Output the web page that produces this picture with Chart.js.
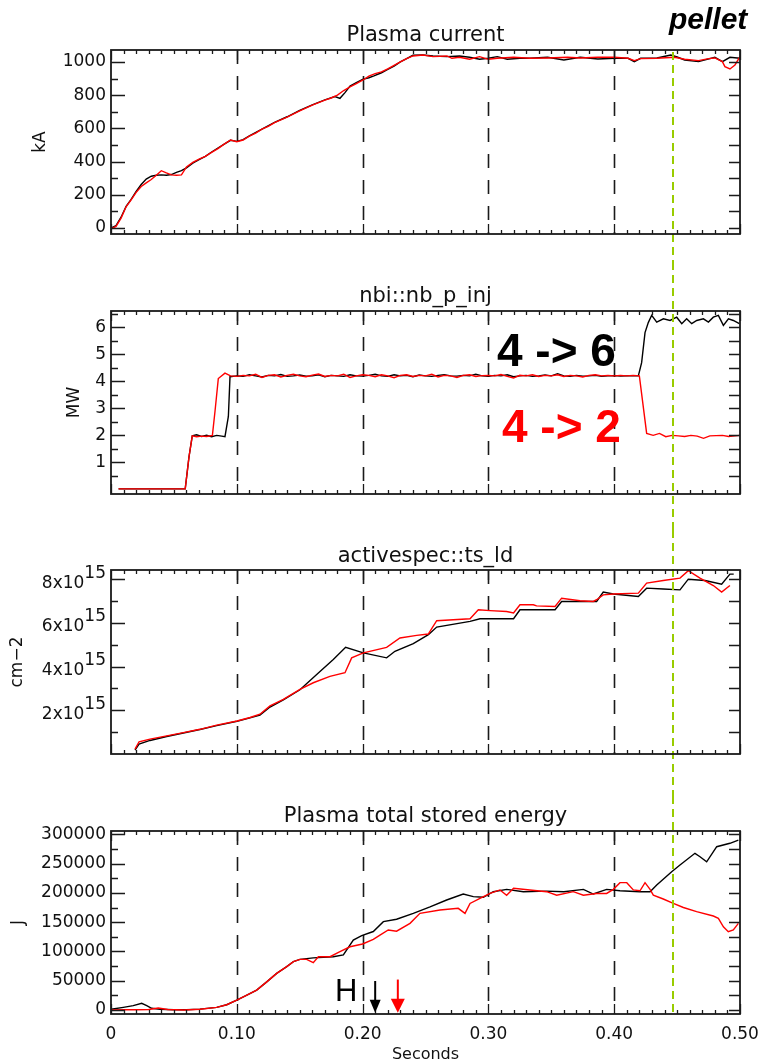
<!DOCTYPE html>
<html>
<head>
<meta charset="utf-8">
<script src="https://cdn.jsdelivr.net/npm/chart.js@4.4.1/dist/chart.umd.min.js"></script>
<style>
  html, body { margin: 0; padding: 0; background: #fff; }
  #wrap { position: relative; width: 759px; height: 1064px; }
  #wrap canvas { position: absolute; left: 0; }
</style>
</head>
<body>
<div id="wrap">
  <canvas id="c1" width="759" height="262" style="top:0px"></canvas>
  <canvas id="c2" width="759" height="268" style="top:262px"></canvas>
  <canvas id="c3" width="759" height="266" style="top:530px"></canvas>
  <canvas id="c4" width="759" height="268" style="top:796px"></canvas>
</div>
<script>
// Tempos marcados (linhas tracejadas) e tempo do pellet
const markTimes = [0.1, 0.2, 0.3, 0.4];
const pelletTime = 0.4465;
const xMajor = [0, 0.1, 0.2, 0.3, 0.4, 0.5];

// Plasma current (kA)
const tIpRed = [0, 0.004, 0.008, 0.012, 0.016, 0.020, 0.024, 0.028, 0.032, 0.036,
  0.040, 0.044, 0.048, 0.052, 0.056, 0.060, 0.065, 0.070, 0.075, 0.080,
  0.085, 0.090, 0.095, 0.100, 0.105, 0.110, 0.115, 0.120, 0.125, 0.130,
  0.140, 0.150, 0.160, 0.170, 0.175, 0.180, 0.185, 0.190, 0.195, 0.200,
  0.205, 0.210, 0.215, 0.220, 0.225, 0.230, 0.235, 0.240, 0.248, 0.256,
  0.267, 0.271, 0.277, 0.285, 0.293, 0.300, 0.307, 0.320, 0.333, 0.347,
  0.363, 0.373, 0.387, 0.400, 0.411, 0.416, 0.421, 0.434, 0.448, 0.456,
  0.467, 0.475, 0.480, 0.486, 0.488, 0.492, 0.496, 0.500];
const ipRed = [-5, 10, 60, 128, 169, 215, 250, 272, 292, 318,
  345, 332, 320, 318, 320, 368, 395, 415, 432, 455,
  478, 505, 530, 520, 530, 553, 572, 595, 612, 635,
  668, 705, 740, 770, 783, 800, 828, 850, 870, 890,
  915, 930, 940, 958, 980, 1000, 1020, 1036, 1042, 1032,
  1036, 1022, 1028, 1016, 1032, 1016, 1022, 1028, 1022, 1024,
  1028, 1024, 1028, 1028, 1022, 1008, 1020, 1022, 1028, 1016,
  1008, 1020, 1024, 1002, 972, 958, 982, 1032];
const tIpBlk = [0, 0.004, 0.008, 0.012, 0.016, 0.020, 0.024, 0.028, 0.032, 0.036,
  0.040, 0.044, 0.048, 0.052, 0.056, 0.060, 0.065, 0.070, 0.075, 0.080,
  0.085, 0.090, 0.095, 0.100, 0.105, 0.110, 0.120, 0.130, 0.140, 0.150,
  0.160, 0.170, 0.178, 0.182, 0.186, 0.190, 0.195, 0.200, 0.205, 0.209,
  0.215, 0.220, 0.225, 0.230, 0.235, 0.240, 0.248, 0.256, 0.267, 0.277,
  0.285, 0.293, 0.300, 0.307, 0.315, 0.325, 0.333, 0.347, 0.360, 0.373,
  0.387, 0.400, 0.411, 0.416, 0.421, 0.434, 0.445, 0.450, 0.456, 0.467,
  0.480, 0.486, 0.492, 0.500];
const ipBlk = [0, 15, 65, 130, 172, 220, 262, 295, 312, 318,
  320, 318, 322, 335, 345, 362, 390, 412, 432, 458,
  482, 505, 528, 522, 532, 555, 596, 636, 670, 708,
  742, 772, 792, 781, 815, 855, 875, 895, 905, 916,
  935, 955, 975, 1000, 1020, 1040, 1042, 1036, 1032, 1036,
  1028, 1016, 1022, 1032, 1016, 1022, 1022, 1028, 1012, 1028,
  1018, 1022, 1022, 1002, 1022, 1024, 1042, 1030, 1012, 1002,
  1028, 1002, 1028, 1022];

// nbi::nb_p_inj (MW)
const tNbiRed = [0.006, 0.059, 0.062, 0.0646, 0.068, 0.072, 0.076, 0.0806, 0.0827, 0.0853,
  0.0906, 0.095, 0.100, 0.105, 0.110, 0.115, 0.120, 0.125, 0.130, 0.135,
  0.140, 0.145, 0.150, 0.155, 0.160, 0.165, 0.170, 0.175, 0.180, 0.185,
  0.190, 0.195, 0.200, 0.205, 0.210, 0.215, 0.220, 0.225, 0.230, 0.235,
  0.240, 0.245, 0.250, 0.255, 0.260, 0.265, 0.270, 0.275, 0.280, 0.285,
  0.290, 0.295, 0.300, 0.305, 0.310, 0.315, 0.320, 0.325, 0.330, 0.335,
  0.340, 0.345, 0.350, 0.355, 0.360, 0.365, 0.370, 0.375, 0.380, 0.385,
  0.390, 0.395, 0.400, 0.405, 0.410, 0.415, 0.420, 0.4258, 0.431, 0.436,
  0.441, 0.446, 0.451, 0.456, 0.461, 0.466, 0.471, 0.476, 0.481, 0.486,
  0.491, 0.496, 0.500];
const nbiRed = [0.02, 0.02, 1.2, 1.98, 1.95, 1.97, 1.96, 2.0, 2.9, 4.1,
  4.3, 4.2, 4.18, 4.22, 4.2, 4.26, 4.14, 4.22, 4.24, 4.16,
  4.22, 4.26, 4.2, 4.17, 4.23, 4.27, 4.18, 4.22, 4.2, 4.26,
  4.14, 4.2, 4.24, 4.22, 4.17, 4.24, 4.2, 4.13, 4.22, 4.24,
  4.18, 4.22, 4.2, 4.26, 4.16, 4.22, 4.2, 4.14, 4.22, 4.24,
  4.18, 4.21, 4.22, 4.2, 4.25, 4.18, 4.12, 4.22, 4.2, 4.24,
  4.18, 4.22, 4.2, 4.24, 4.18, 4.22, 4.2, 4.16, 4.22, 4.24,
  4.2, 4.22, 4.2, 4.22, 4.2, 4.22, 4.2, 2.07, 2.0, 2.07,
  1.95, 2.0, 1.98, 1.96, 2.0, 1.97, 1.89, 1.98, 1.99, 2.0,
  1.96, 1.98, 2.0];
const tNbiBlk = [0.006, 0.059, 0.062, 0.0646, 0.068, 0.072, 0.076, 0.080, 0.084, 0.088,
  0.0906, 0.0933, 0.0946, 0.100, 0.105, 0.110, 0.115, 0.120, 0.125, 0.130,
  0.135, 0.140, 0.145, 0.150, 0.155, 0.160, 0.165, 0.170, 0.175, 0.180,
  0.185, 0.190, 0.195, 0.200, 0.205, 0.210, 0.215, 0.220, 0.225, 0.230,
  0.235, 0.240, 0.245, 0.250, 0.255, 0.260, 0.265, 0.270, 0.275, 0.280,
  0.285, 0.290, 0.295, 0.300, 0.305, 0.310, 0.315, 0.320, 0.325, 0.330,
  0.335, 0.340, 0.345, 0.350, 0.355, 0.360, 0.365, 0.370, 0.375, 0.380,
  0.385, 0.390, 0.395, 0.400, 0.405, 0.410, 0.415, 0.4192, 0.4218, 0.4245,
  0.4271, 0.4298, 0.4338, 0.4391, 0.4444, 0.4497, 0.4537, 0.4576, 0.4616, 0.4656,
  0.4709, 0.4749, 0.4788, 0.4828, 0.4868, 0.4908, 0.4947, 0.4995];
const nbiBlk = [0.02, 0.02, 1.2, 1.98, 2.02, 1.96, 2.0, 1.95, 2.0, 1.97,
  1.95, 2.7, 4.17, 4.2, 4.18, 4.24, 4.2, 4.16, 4.22, 4.2,
  4.25, 4.18, 4.2, 4.23, 4.19, 4.2, 4.24, 4.17, 4.22, 4.2,
  4.18, 4.24, 4.2, 4.19, 4.22, 4.26, 4.2, 4.18, 4.24, 4.2,
  4.22, 4.17, 4.23, 4.2, 4.18, 4.22, 4.24, 4.2, 4.19, 4.22,
  4.2, 4.26, 4.2, 4.18, 4.22, 4.2, 4.24, 4.17, 4.2, 4.22,
  4.18, 4.2, 4.23, 4.2, 4.28, 4.2, 4.18, 4.22, 4.19, 4.2,
  4.22, 4.18, 4.2, 4.21, 4.19, 4.2, 4.2, 4.2, 4.69, 5.8,
  6.17, 6.44, 6.19, 6.31, 6.25, 6.37, 6.13, 6.31, 6.13, 6.25,
  6.31, 6.19, 6.37, 6.44, 6.07, 6.31, 6.25, 6.13];

// activespec::ts_ld (unidade: 1e15 cm-2)
const tTsRed = [0.0191, 0.0223, 0.031, 0.0443, 0.0575, 0.0707, 0.084, 0.1002, 0.1105, 0.1184,
  0.1264, 0.137, 0.1502, 0.1608, 0.174, 0.186, 0.1913, 0.2006, 0.2191, 0.2297,
  0.243, 0.2522, 0.2589, 0.2854, 0.292, 0.3013, 0.3145, 0.32, 0.3251, 0.3357,
  0.3383, 0.353, 0.3582, 0.3728, 0.3834, 0.386, 0.3913, 0.3993, 0.4192, 0.4258,
  0.439, 0.4523, 0.4589, 0.4682, 0.4788, 0.4854, 0.492];
const tsRed = [0.22, 0.56, 0.68, 0.83, 0.98, 1.13, 1.32, 1.51, 1.67, 1.82,
  2.2, 2.5, 2.96, 3.26, 3.55, 3.72, 4.4, 4.63, 4.88, 5.31,
  5.43, 5.49, 6.1, 6.19, 6.6, 6.56, 6.52, 6.45, 6.83, 6.83,
  6.78, 6.75, 7.13, 7.01, 6.98, 7.06, 7.28, 7.32, 7.36, 7.82,
  7.94, 8.05, 8.39, 8.05, 7.71, 7.41, 7.71];
const tTsBlk = [0.0191, 0.0223, 0.031, 0.0443, 0.0575, 0.0707, 0.084, 0.1002, 0.1105, 0.1184,
  0.1264, 0.137, 0.1502, 0.1635, 0.1767, 0.1865, 0.2006, 0.2191, 0.2257, 0.2403,
  0.2523, 0.2589, 0.2854, 0.2933, 0.32, 0.3251, 0.353, 0.3582, 0.386, 0.3913,
  0.3993, 0.4192, 0.4258, 0.439, 0.4523, 0.4589, 0.4722, 0.4854, 0.492, 0.495];
const tsBlk = [0.18, 0.45, 0.62, 0.8, 0.96, 1.12, 1.3, 1.5, 1.65, 1.78,
  2.15, 2.48, 2.94, 3.64, 4.32, 4.88, 4.63, 4.4, 4.7, 5.05,
  5.46, 5.81, 6.07, 6.19, 6.19, 6.6, 6.6, 6.98, 6.98, 7.41,
  7.32, 7.21, 7.59, 7.55, 7.51, 8.0, 7.94, 7.77, 8.23, 8.23];

// Plasma total stored energy (J)
const tWRed = [0, 0.010, 0.020, 0.030, 0.0376, 0.045, 0.058, 0.0707, 0.084, 0.092,
  0.100, 0.108, 0.1158, 0.1238, 0.1317, 0.1397, 0.145, 0.1502, 0.1555, 0.1608,
  0.1648, 0.1741, 0.182, 0.190, 0.200, 0.2085, 0.2138, 0.2204, 0.227, 0.2377,
  0.2456, 0.2615, 0.276, 0.2814, 0.2854, 0.2933, 0.3013, 0.3092, 0.3145, 0.320,
  0.333, 0.3463, 0.3543, 0.3675, 0.3755, 0.386, 0.394, 0.3993, 0.4046, 0.410,
  0.4152, 0.4205, 0.4245, 0.4285, 0.4311, 0.439, 0.447, 0.455, 0.4655, 0.4788,
  0.4828, 0.4868, 0.4907, 0.4947, 0.4987];
const wRed = [0, 500, 500, 1000, 3400, 1000, 0, 1200, 4600, 9000,
  17000, 25600, 34000, 48000, 62600, 74000, 82500, 86500, 86500, 80800,
  91000, 91000, 99500, 108000, 112700, 120700, 128000, 136600, 134500, 148000,
  165000, 170700, 173600, 165000, 182000, 190700, 199000, 205000, 196000, 207700,
  205000, 202000, 196000, 202000, 196000, 199000, 199000, 206000, 217400, 217400,
  205000, 203600, 217400, 206000, 196000, 189500, 182000, 175000, 168000, 160500,
  156600, 142000, 133700, 136600, 148000];
const tWBlk = [0, 0.0098, 0.0177, 0.0244, 0.0284, 0.0323, 0.039, 0.050, 0.060, 0.0707,
  0.084, 0.092, 0.100, 0.108, 0.1158, 0.1238, 0.1317, 0.1397, 0.145, 0.1502,
  0.1608, 0.1767, 0.1847, 0.1926, 0.1993, 0.2085, 0.2165, 0.227, 0.2403, 0.2536,
  0.2668, 0.280, 0.288, 0.296, 0.3039, 0.3145, 0.3278, 0.3463, 0.360, 0.3755,
  0.3834, 0.394, 0.4046, 0.4205, 0.4285, 0.4338, 0.4457, 0.4523, 0.4642, 0.4682,
  0.4735, 0.4815, 0.492, 0.4987];
const wBlk = [1200, 4600, 7400, 11400, 7400, 2900, 1200, 500, 500, 1500,
  4600, 9000, 17000, 25600, 34000, 48000, 62600, 74000, 82500, 86500,
  89000, 91000, 94000, 119500, 127000, 134000, 150800, 155000, 165000, 176000,
  187800, 198000, 193500, 192400, 202000, 206000, 202000, 203000, 202000, 206000,
  198000, 206000, 203600, 202000, 202000, 213400, 236000, 247600, 267500, 261700,
  253000, 278800, 284600, 290000];

// Ticks dos eixos y
const yTicksIp = [0, 200, 400, 600, 800, 1000];
const yMinorIp = [100, 300, 500, 700, 900];
const yTicksNbi = [1, 2, 3, 4, 5, 6];
const yMinorNbi = [0.5, 1.5, 2.5, 3.5, 4.5, 5.5, 6.5];
const yTicksTs = [2, 4, 6, 8];
const yMinorTs = [1, 3, 5, 7];
const yTicksW = [0, 50000, 100000, 150000, 200000, 250000, 300000];
const yMinorW = [25000, 75000, 125000, 175000, 225000, 275000];

// Anotações
const arrowTimes = [0.21, 0.228];

const FONT = '"DejaVu Sans", sans-serif';
const xMinor = [];
for (let i = 1; i < 50; i++) if (i % 10) xMinor.push(i / 100);

function pontos(ts, vs) {
  return ts.map((t, i) => ({ x: t, y: vs[i] }));
}

function desenhaSeta(ctx, x, yTop, yTip, cor, largura, altura) {
  ctx.strokeStyle = cor;
  ctx.fillStyle = cor;
  ctx.lineWidth = 2;
  ctx.beginPath();
  ctx.moveTo(x, yTop);
  ctx.lineTo(x, yTip - altura + 1);
  ctx.stroke();
  ctx.beginPath();
  ctx.moveTo(x - largura / 2, yTip - altura);
  ctx.lineTo(x + largura / 2, yTip - altura);
  ctx.lineTo(x, yTip);
  ctx.closePath();
  ctx.fill();
}

function criarPainel(id, cfg) {
  const plugin = {
    id: 'idl_' + id,
    beforeDatasetsDraw(chart) {
      const { ctx, chartArea: a, scales: { x } } = chart;
      ctx.save();
      ctx.strokeStyle = '#1a1a1a';
      ctx.lineWidth = 1.6;
      ctx.setLineDash([14, 12]);
      markTimes.forEach(t => {
        const px = Math.round(x.getPixelForValue(t)) + 0.5;
        ctx.beginPath();
        ctx.moveTo(px, a.top);
        ctx.lineTo(px, a.bottom);
        ctx.stroke();
      });
      ctx.restore();
    },
    afterDatasetsDraw(chart) {
      const { ctx, chartArea: a, scales: { x, y } } = chart;
      ctx.save();

      // linha do pellet
      ctx.strokeStyle = '#99cc00';
      ctx.lineWidth = 2;
      ctx.setLineDash([8, 5]);
      const gx = Math.round(x.getPixelForValue(pelletTime));
      ctx.beginPath();
      ctx.moveTo(gx, cfg.greenFromBox ? a.top + 2 : 0);
      ctx.lineTo(gx, cfg.greenToBox ? a.bottom : chart.height);
      ctx.stroke();
      ctx.setLineDash([]);

      // moldura
      ctx.strokeStyle = '#1a1a1a';
      ctx.lineWidth = 1.8;
      ctx.strokeRect(a.left, a.top, a.right - a.left, a.bottom - a.top);

      // ticks para dentro
      ctx.lineWidth = 1.3;
      ctx.beginPath();
      xMajor.concat(xMinor).forEach(v => {
        const len = xMajor.includes(v) ? 10 : 4;
        const px = Math.round(x.getPixelForValue(v)) + 0.5;
        ctx.moveTo(px, a.top); ctx.lineTo(px, a.top + len);
        ctx.moveTo(px, a.bottom); ctx.lineTo(px, a.bottom - len);
      });
      cfg.yMajor.forEach(v => {
        const py = Math.round(y.getPixelForValue(v)) + 0.5;
        ctx.moveTo(a.left, py); ctx.lineTo(a.left + 14, py);
        ctx.moveTo(a.right, py); ctx.lineTo(a.right - 11, py);
      });
      cfg.yMinor.forEach(v => {
        const py = Math.round(y.getPixelForValue(v)) + 0.5;
        ctx.moveTo(a.left, py); ctx.lineTo(a.left + 7, py);
        ctx.moveTo(a.right, py); ctx.lineTo(a.right - 11, py);
      });
      ctx.stroke();

      // título
      ctx.fillStyle = '#111';
      ctx.font = '21px ' + FONT;
      ctx.textAlign = 'center';
      ctx.textBaseline = 'alphabetic';
      ctx.fillText(cfg.title, (a.left + a.right) / 2, cfg.titleY);

      // título do eixo y
      ctx.save();
      ctx.font = '17px ' + FONT;
      ctx.textBaseline = 'middle';
      ctx.translate(cfg.yTitleX, (a.top + a.bottom) / 2);
      ctx.rotate(-Math.PI / 2);
      ctx.fillText(cfg.yTitle, 0, 0);
      ctx.restore();

      // rótulos tipo 8x10^15
      if (cfg.sciLabels) {
        ctx.font = '17px ' + FONT;
        ctx.textAlign = 'right';
        ctx.textBaseline = 'middle';
        const wExp = ctx.measureText('15').width;
        cfg.yMajor.forEach(v => {
          const py = y.getPixelForValue(v);
          ctx.fillText('15', a.left - 5, py - 6);
          ctx.fillText(v + 'x10', a.left - 5 - wExp, py + 4);
        });
      }

      if (cfg.extra) cfg.extra(chart, ctx, a, x, y);
      ctx.restore();
    }
  };

  return new Chart(document.getElementById(id), {
    type: 'line',
    data: {
      datasets: cfg.series.map(s => ({
        data: pontos(s.t, s.v),
        borderColor: s.cor,
        borderWidth: 1.4,
        pointRadius: 0,
        tension: 0,
        fill: false
      }))
    },
    options: {
      responsive: false,
      animation: false,
      events: [],
      layout: { padding: { left: 0, right: 19, top: cfg.padTop, bottom: cfg.padBottom } },
      plugins: { legend: { display: false }, tooltip: { enabled: false }, title: { display: false } },
      scales: {
        x: {
          type: 'linear', min: 0, max: 0.5,
          display: !!cfg.showX,
          grid: { display: false, drawTicks: false },
          border: { display: false },
          afterBuildTicks: s => { s.ticks = xMajor.map(v => ({ value: v })); },
          afterFit: s => { s.height = cfg.showX ? 50 : 0; s.paddingLeft = 0; s.paddingRight = 0; },
          ticks: {
            padding: 10, autoSkip: false, maxRotation: 0, color: '#111',
            font: { family: FONT, size: 17 },
            callback: v => v === 0 ? '0' : v.toFixed(2)
          }
        },
        y: {
          type: 'linear', min: cfg.yMin, max: cfg.yMax,
          grid: { display: false, drawTicks: false },
          border: { display: false },
          afterBuildTicks: s => { s.ticks = cfg.yMajor.map(v => ({ value: v })); },
          afterFit: s => { s.width = 111; s.paddingTop = 0; s.paddingBottom = 0; },
          ticks: {
            display: !cfg.sciLabels, padding: 5, autoSkip: false, color: '#111',
            font: { family: FONT, size: 17 },
            callback: v => String(v)
          }
        }
      }
    },
    plugins: [plugin]
  });
}

// Painel 1
criarPainel('c1', {
  title: 'Plasma current', titleY: 41, yTitle: 'kA', yTitleX: 41,
  yMin: -36, yMax: 1072, yMajor: yTicksIp, yMinor: yMinorIp,
  padTop: 50, padBottom: 28, greenFromBox: true,
  series: [{ t: tIpRed, v: ipRed, cor: '#ff0000' }, { t: tIpBlk, v: ipBlk, cor: '#000' }],
  extra: (chart, ctx) => {
    ctx.fillStyle = '#000';
    ctx.font = 'italic bold 30px "Liberation Sans", Arial, sans-serif';
    ctx.textAlign = 'left';
    ctx.textBaseline = 'alphabetic';
    ctx.fillText('pellet', 669, 29);
  }
});

// Painel 2
criarPainel('c2', {
  title: 'nbi::nb_p_inj', titleY: 40, yTitle: 'MW', yTitleX: 75,
  yMin: -0.17, yMax: 6.6, yMajor: yTicksNbi, yMinor: yMinorNbi,
  padTop: 49, padBottom: 36,
  series: [{ t: tNbiRed, v: nbiRed, cor: '#ff0000' }, { t: tNbiBlk, v: nbiBlk, cor: '#000' }],
  extra: (chart, ctx, a, x, y) => {
    ctx.font = 'bold 46px "Liberation Sans", Arial, sans-serif';
    ctx.textAlign = 'left';
    ctx.textBaseline = 'alphabetic';
    ctx.fillStyle = '#000';
    ctx.fillText('4 -> 6', x.getPixelForValue(0.3068), y.getPixelForValue(4.55));
    ctx.fillStyle = '#ff0000';
    ctx.fillText('4 -> 2', x.getPixelForValue(0.3108), y.getPixelForValue(1.75));
  }
});

// Painel 3
criarPainel('c3', {
  title: 'activespec::ts_ld', titleY: 32, yTitle: 'cm\u22122', yTitleX: 18,
  yMin: 0, yMax: 8.42, yMajor: yTicksTs, yMinor: yMinorTs, sciLabels: true,
  padTop: 40, padBottom: 42,
  series: [{ t: tTsRed, v: tsRed, cor: '#ff0000' }, { t: tTsBlk, v: tsBlk, cor: '#000' }]
});

// Painel 4
criarPainel('c4', {
  title: 'Plasma total stored energy', titleY: 26, yTitle: 'J', yTitleX: 19,
  yMin: -6800, yMax: 305600, yMajor: yTicksW, yMinor: yMinorW,
  padTop: 35, padBottom: 0, showX: true, greenToBox: true,
  series: [{ t: tWRed, v: wRed, cor: '#ff0000' }, { t: tWBlk, v: wBlk, cor: '#000' }],
  extra: (chart, ctx, a, x, y) => {
    ctx.fillStyle = '#000';
    ctx.font = '31px "Liberation Sans", Arial, sans-serif';
    ctx.textAlign = 'left';
    ctx.textBaseline = 'alphabetic';
    ctx.fillText('H', x.getPixelForValue(0.178), y.getPixelForValue(15400));
    desenhaSeta(ctx, x.getPixelForValue(arrowTimes[0]), y.getPixelForValue(49500),
      y.getPixelForValue(-4500), '#000', 11, 13);
    desenhaSeta(ctx, x.getPixelForValue(arrowTimes[1]), y.getPixelForValue(52000),
      y.getPixelForValue(-4500), '#ff0000', 14, 14);
    ctx.fillStyle = '#111';
    ctx.font = '16px ' + FONT;
    ctx.textAlign = 'center';
    ctx.textBaseline = 'middle';
    ctx.fillText('Seconds', (a.left + a.right) / 2, 259);
  }
});
</script>
</body>
</html>
